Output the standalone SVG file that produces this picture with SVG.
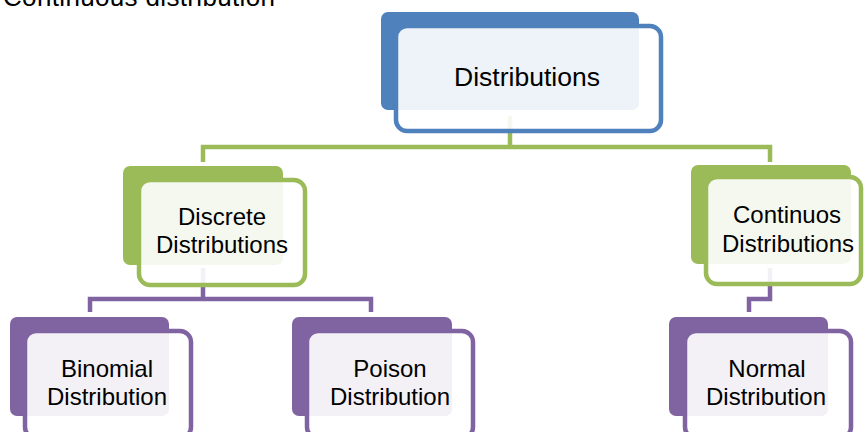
<svg xmlns="http://www.w3.org/2000/svg" width="865" height="432" viewBox="0 0 865 432">
  <style>
    text { font-family: "Liberation Sans", Arial, sans-serif; fill: #000; text-anchor: middle; }
    .lbl { font-size: 24px; }
    .top { font-size: 26.5px; }
    .caption { font-size: 26px; text-anchor: start; }
    .wire { fill: none; stroke-width: 4.5; stroke-linejoin: miter; }
    .g { stroke: #9BBB59; }
    .p { stroke: #8064A2; }
    .back { stroke: none; }
    .front { fill: #FFFFFF; fill-opacity: 0.9; stroke-width: 4.5; }
    .blue .back { fill: #4F81BD; } .blue .front { stroke: #4F81BD; }
    .green .back { fill: #9BBB59; } .green .front { stroke: #9BBB59; }
    .purple .back { fill: #8064A2; } .purple .front { stroke: #8064A2; }
  </style>

  <rect width="865" height="432" fill="#FFFFFF"/>

  <!-- heading line running off the top edge -->
  <text class="caption" x="3" y="6" textLength="272">Continuous distribution</text>

  <!-- connectors (drawn beneath the boxes) -->
  <g id="connectors">
    <path class="wire g" d="M510 116 V147 M203 162 V147 H770 V162"/>
    <path class="wire p" d="M203 268 V299 M90 312 V299 H371 V312"/>
    <path class="wire p" d="M770 268 V299 H749 V312"/>
  </g>

  <g id="distributions" class="blue">
    <rect class="back" x="381" y="12" width="258" height="98" rx="7"/>
    <rect class="front" x="396" y="26" width="265" height="105" rx="11"/>
    <text class="top" x="527" y="86">Distributions</text>
  </g>

  <g id="discrete" class="green">
    <rect class="back" x="123" y="166" width="160" height="99" rx="7"/>
    <rect class="front" x="139" y="180" width="166" height="105" rx="11"/>
    <text class="lbl" x="222" y="225">Discrete</text>
    <text class="lbl" x="222" y="253">Distributions</text>
  </g>

  <g id="continuos" class="green">
    <rect class="back" x="691" y="165" width="160" height="99" rx="7"/>
    <rect class="front" x="706" y="177" width="155" height="107" rx="11"/>
    <text class="lbl" x="787" y="223">Continuos</text>
    <text class="lbl" x="788" y="252">Distributions</text>
  </g>

  <g id="binomial" class="purple">
    <rect class="back" x="10" y="317" width="159" height="99" rx="7"/>
    <rect class="front" x="25" y="331" width="166" height="107" rx="11"/>
    <text class="lbl" x="107" y="377">Binomial</text>
    <text class="lbl" x="107" y="405">Distribution</text>
  </g>

  <g id="poison" class="purple">
    <rect class="back" x="292" y="317" width="160" height="99" rx="7"/>
    <rect class="front" x="307" y="331" width="166" height="107" rx="11"/>
    <text class="lbl" x="390" y="377">Poison</text>
    <text class="lbl" x="390" y="405">Distribution</text>
  </g>

  <g id="normal" class="purple">
    <rect class="back" x="669" y="317" width="159" height="99" rx="7"/>
    <rect class="front" x="685" y="331" width="166" height="107" rx="11"/>
    <text class="lbl" x="767" y="377">Normal</text>
    <text class="lbl" x="766" y="405">Distribution</text>
  </g>
</svg>
